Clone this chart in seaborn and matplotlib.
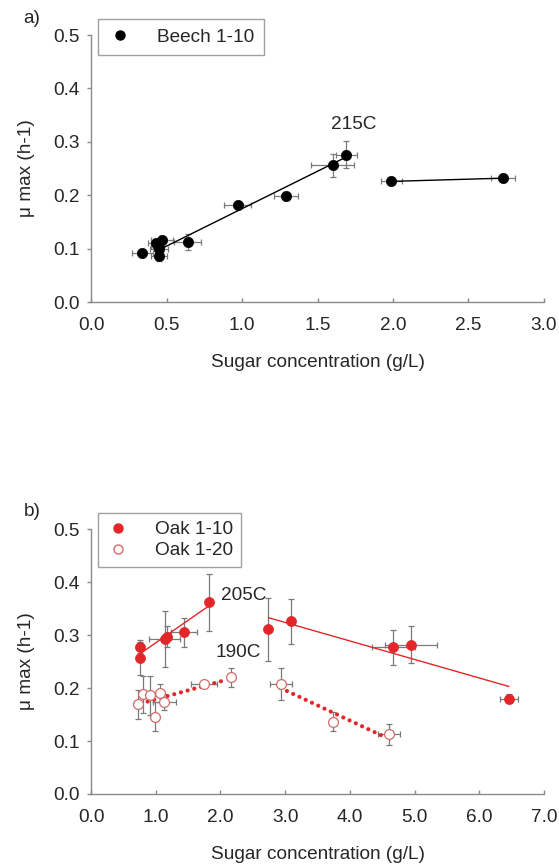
import numpy as np
import matplotlib.pyplot as plt
import seaborn as sns
from matplotlib.lines import Line2D

sns.set_theme(style="white")
plt.rcParams['font.family'] = ['Liberation Sans', 'DejaVu Sans']

# panel a: Beech 1-10
beech_x = [0.34, 0.43, 0.47, 0.45, 0.44, 0.45, 0.64, 0.97, 1.29, 1.60, 1.69, 1.99, 2.73]
beech_y = [0.091, 0.110, 0.116, 0.100, 0.105, 0.086, 0.112, 0.182, 0.198, 0.256, 0.276, 0.226, 0.232]
beech_xerr = [0.07, 0.05, 0.07, 0.06, 0.04, 0.05, 0.09, 0.09, 0.08, 0.14, 0.07, 0.07, 0.08]
beech_yerr = [0.005, 0.008, 0.008, 0.010, 0.006, 0.010, 0.015, 0.005, 0.006, 0.022, 0.025, 0.004, 0.004]
beech_fit1_x = [0.48, 1.70]
beech_fit1_y = [0.102, 0.273]
beech_fit2_x = [1.99, 2.73]
beech_fit2_y = [0.226, 0.232]

# panel b: Oak 1-10 (filled)
oak10_x = [0.75, 0.75, 1.14, 1.18, 1.43, 1.83, 2.74, 3.09, 4.67, 4.94, 6.46]
oak10_y = [0.278, 0.256, 0.292, 0.297, 0.305, 0.362, 0.311, 0.326, 0.277, 0.282, 0.180]
oak10_xerr = [0.05, 0.02, 0.24, 0.05, 0.20, 0.02, 0.02, 0.02, 0.33, 0.40, 0.14]
oak10_yerr = [0.012, 0.031, 0.053, 0.020, 0.028, 0.054, 0.060, 0.043, 0.033, 0.035, 0.008]
oak10_fit1_x = [0.77, 1.83]
oak10_fit1_y = [0.266, 0.356]
oak10_fit2_x = [2.74, 6.46]
oak10_fit2_y = [0.333, 0.203]

# panel b: Oak 1-20 (open)
oak20_x = [0.72, 0.80, 0.91, 0.99, 1.07, 1.13, 1.74, 2.16, 2.93, 3.74, 4.60]
oak20_y = [0.169, 0.188, 0.186, 0.146, 0.191, 0.173, 0.208, 0.220, 0.208, 0.136, 0.113]
oak20_xerr = [0.05, 0.05, 0.05, 0.05, 0.05, 0.18, 0.20, 0.05, 0.17, 0.03, 0.17]
oak20_yerr = [0.028, 0.035, 0.037, 0.028, 0.017, 0.015, 0.005, 0.018, 0.030, 0.018, 0.020]
oak20_fit1_x = [0.77, 2.10]
oak20_fit1_y = [0.171, 0.216]
oak20_fit2_x = [2.93, 4.57]
oak20_fit2_y = [0.200, 0.106]

RED = '#e3262a'
OPEN_EDGE = '#d46a6a'
ERR = '#7a7a7a'
AXC = '#8a8a8a'
FS = 13.7


def style_axes(ax, xmax, xstep, xfmt):
    ax.set_xlim(0, xmax)
    ax.set_ylim(0, 0.5)
    xt = np.arange(0, xmax + 1e-9, xstep)
    ax.set_xticks(xt)
    ax.set_xticklabels([xfmt.format(v) for v in xt])
    yt = np.arange(0, 0.51, 0.1)
    ax.set_yticks(yt)
    ax.set_yticklabels([f'{v:.1f}' for v in yt])
    for s in ['top', 'right']:
        ax.spines[s].set_visible(False)
    for s in ['left', 'bottom']:
        ax.spines[s].set_color(AXC)
        ax.spines[s].set_linewidth(1.0)
    ax.tick_params(axis='x', direction='in', length=3, width=1, color=AXC,
                   labelsize=FS, pad=11, bottom=True)
    ax.tick_params(axis='y', direction='out', length=3, width=1, color=AXC,
                   labelsize=FS, pad=5, left=True)
    ax.set_xlabel('Sugar concentration (g/L)', fontsize=FS, labelpad=14)
    ax.set_ylabel('μ max (h-1)', fontsize=FS, labelpad=13)


fig = plt.figure(figsize=(5.59, 8.68), dpi=100)
ax1 = fig.add_axes([0.163, 0.652, 0.810, 0.3076])
ax2 = fig.add_axes([0.163, 0.0853, 0.810, 0.305])

# ---- panel a
ax1.errorbar(beech_x, beech_y, xerr=beech_xerr, yerr=beech_yerr, fmt='none',
             ecolor=ERR, elinewidth=0.9, capsize=2.5, capthick=0.9, zorder=2)
sns.lineplot(x=beech_fit1_x, y=beech_fit1_y, ax=ax1, color='black', lw=1.0, zorder=3)
sns.lineplot(x=beech_fit2_x, y=beech_fit2_y, ax=ax1, color='black', lw=1.0, zorder=3)
sns.scatterplot(x=beech_x, y=beech_y, ax=ax1, color='black', s=55,
                edgecolor='black', linewidth=0.5, zorder=4)
ax1.text(1.74, 0.333, '215C', fontsize=FS, ha='center', va='center')
style_axes(ax1, 3.0, 0.5, '{:.1f}')
h_a = [Line2D([], [], ls='none', marker='o', markersize=6.5, color='black')]
ax1.legend(h_a, ['Beech 1-10'], loc='upper left', bbox_to_anchor=(0.015, 1.06),
           fontsize=FS, frameon=True, fancybox=False, edgecolor=AXC,
           handlelength=1.3, handletextpad=1.3, borderpad=0.5, borderaxespad=0)
fig.text(0.042, 0.973, 'a)', fontsize=FS)

# ---- panel b
ax2.errorbar(oak10_x, oak10_y, xerr=oak10_xerr, yerr=oak10_yerr, fmt='none',
             ecolor=ERR, elinewidth=0.9, capsize=2.5, capthick=0.9, zorder=2)
ax2.errorbar(oak20_x, oak20_y, xerr=oak20_xerr, yerr=oak20_yerr, fmt='none',
             ecolor=ERR, elinewidth=0.9, capsize=2.5, capthick=0.9, zorder=2)
sns.lineplot(x=oak10_fit1_x, y=oak10_fit1_y, ax=ax2, color=RED, lw=1.0, zorder=3)
sns.lineplot(x=oak10_fit2_x, y=oak10_fit2_y, ax=ax2, color=RED, lw=1.0, zorder=3)
for fx, fy in [(oak20_fit1_x, oak20_fit1_y), (oak20_fit2_x, oak20_fit2_y)]:
    ln = sns.lineplot(x=fx, y=fy, ax=ax2, color=RED, lw=3.0, zorder=3).lines[-1]
    ln.set_dashes([0.01, 1.65])
    ln.set_dash_capstyle('round')
sns.scatterplot(x=oak20_x, y=oak20_y, ax=ax2, color='white', s=50,
                edgecolor=OPEN_EDGE, linewidth=0.9, zorder=4)
sns.scatterplot(x=oak10_x, y=oak10_y, ax=ax2, color=RED, s=52,
                edgecolor=RED, linewidth=0.5, zorder=5)
ax2.text(2.36, 0.3745, '205C', fontsize=FS, ha='center', va='center')
ax2.text(2.28, 0.267, '190C', fontsize=FS, ha='center', va='center')
style_axes(ax2, 7.0, 1.0, '{:.1f}')
h_b = [Line2D([], [], ls='none', marker='o', markersize=6.5, color=RED),
       Line2D([], [], ls='none', marker='o', markersize=6.5, markerfacecolor='white',
              markeredgecolor=OPEN_EDGE)]
ax2.legend(h_b, ['Oak 1-10', 'Oak 1-20'], loc='upper left', bbox_to_anchor=(0.015, 1.06),
           fontsize=FS, frameon=True, fancybox=False, edgecolor=AXC,
           handlelength=1.3, handletextpad=1.3, borderpad=0.4, borderaxespad=0,
           labelspacing=0.2)
fig.text(0.042, 0.405, 'b)', fontsize=FS)

fig.savefig('out.png', dpi=100, facecolor='white')
